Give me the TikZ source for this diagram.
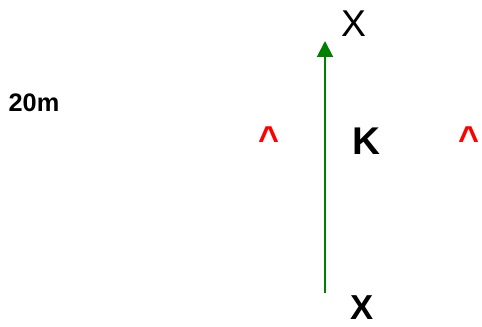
\documentclass[tikz,border=0pt]{standalone}
\usepackage{fontspec}
\setmainfont{Liberation Sans}
\usetikzlibrary{arrows.meta}
\definecolor{axisgreen}{RGB}{0,128,0}
\definecolor{markred}{RGB}{255,0,0}

\begin{document}
\begin{tikzpicture}[x=0.75pt, y=-0.75pt,
  lbl/.style={inner sep=0pt, text=black},
  caret/.style={inner sep=0pt, anchor=north, text=markred, font=\fontsize{27}{27}\selectfont\bfseries},
]
\useasboundingbox (0,0) rectangle (482,327);
\node[lbl, font=\fontsize{19}{19}\selectfont\bfseries] (scale) at (34,103) {20m};
\coordinate (foot) at (325,293);
\coordinate (head) at (325,41);
\draw[-{Triangle[width=12pt,length=12pt]}, axisgreen, line width=1.5pt] (foot) -- (head);
\node[lbl, font=\fontsize{28}{28}\selectfont] (xtop) at (353.5,23.5) {X};
\node[lbl, font=\fontsize{29}{29}\selectfont\bfseries] (k) at (366,141) {K};
\node[lbl, font=\fontsize{26}{26}\selectfont\bfseries] (xbot) at (362,308) {X};
\node[caret] (left) at (269,126) {\textasciicircum};
\node[caret] (right) at (469,126) {\textasciicircum};
\end{tikzpicture}
\end{document}
